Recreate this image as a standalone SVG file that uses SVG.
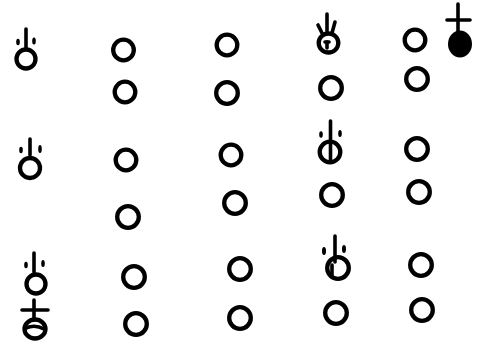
<svg xmlns="http://www.w3.org/2000/svg" width="482" height="349" viewBox="0 0 482 349">
<style>
.c{fill:none;stroke:#000;stroke-width:4.3}
.l{fill:none;stroke:#000;stroke-width:3.6;stroke-linecap:round}
.d{fill:#000}
</style>
<rect width="482" height="349" fill="#fff"/>
<!-- row 1 -->
<g id="s1"><circle class="c" cx="26" cy="59" r="9.5"/><line class="l" x1="26" y1="29" x2="26" y2="49"/><ellipse class="d" cx="18" cy="42" rx="1.8" ry="3.2"/><ellipse class="d" cx="34" cy="41" rx="1.8" ry="3.6"/></g>
<g id="n1"><circle class="c" cx="123.5" cy="50" r="10.3"/></g>
<g id="n2"><circle class="c" cx="125" cy="92" r="10.3"/></g>
<g id="n3"><circle class="c" cx="227" cy="45" r="10.3"/></g>
<g id="n4"><circle class="c" cx="227" cy="93" r="10.8"/></g>
<g id="s2"><ellipse class="c" cx="328.5" cy="43" rx="9.8" ry="9.5"/><line class="l" x1="327" y1="14" x2="327" y2="31"/><line class="l" x1="318" y1="25" x2="322" y2="33"/><line class="l" x1="335" y1="22" x2="332" y2="33"/><line class="l" x1="327" y1="42" x2="327" y2="48" stroke-width="2.8"/><line class="l" x1="325" y1="42" x2="329" y2="42" stroke-width="2.2"/></g>
<g id="n5"><circle class="c" cx="331" cy="88" r="10.8"/></g>
<g id="n6"><circle class="c" cx="415" cy="40" r="10.3"/></g>
<g id="n7"><circle class="c" cx="417" cy="79" r="10.8"/></g>
<g id="s3"><ellipse class="d" cx="460" cy="44" rx="12" ry="13.5"/><line class="l" x1="458" y1="4" x2="458" y2="31"/><line class="l" x1="447" y1="20" x2="470" y2="20"/></g>
<!-- row 2 -->
<g id="s4"><circle class="c" cx="30" cy="168" r="10"/><line class="l" x1="30" y1="139" x2="30" y2="155"/><ellipse class="d" cx="21" cy="150" rx="1.8" ry="3.2"/><ellipse class="d" cx="40" cy="149" rx="1.8" ry="4"/></g>
<g id="n8"><circle class="c" cx="126" cy="160" r="10.3"/></g>
<g id="n9"><circle class="c" cx="128" cy="217" r="10.8"/></g>
<g id="n10"><circle class="c" cx="231" cy="155" r="10.3"/></g>
<g id="n11"><circle class="c" cx="235" cy="203" r="10.8"/></g>
<g id="s5"><circle class="c" cx="330" cy="152" r="10.3"/><line class="l" x1="330.5" y1="121" x2="330.5" y2="162" stroke-width="4"/><ellipse class="d" cx="321" cy="134.5" rx="1.8" ry="3.2"/><ellipse class="d" cx="340" cy="133.5" rx="1.8" ry="3.6"/></g>
<g id="n12"><circle class="c" cx="332" cy="195" r="10.8"/></g>
<g id="n13"><circle class="c" cx="417" cy="149" r="10.8"/></g>
<g id="n14"><circle class="c" cx="419" cy="192" r="10.8"/></g>
<!-- row 3 -->
<g id="s6"><circle class="c" cx="36" cy="284" r="9.5"/><line class="l" x1="34" y1="253" x2="34" y2="272"/><ellipse class="d" cx="26" cy="265" rx="1.8" ry="3.2"/><ellipse class="d" cx="43" cy="263.5" rx="1.8" ry="3.6"/></g>
<g id="s7"><line class="l" x1="22" y1="310" x2="48" y2="310"/><line class="l" x1="34" y1="300" x2="34" y2="320"/><ellipse class="c" cx="35" cy="329" rx="10.5" ry="9.5"/><path class="l" d="M26 328 Q35 324 44 329"/></g>
<g id="n15"><circle class="c" cx="134" cy="277" r="10.8"/></g>
<g id="n16"><circle class="c" cx="136" cy="324" r="10.8"/></g>
<g id="n17"><circle class="c" cx="240" cy="269" r="10.8"/></g>
<g id="n18"><circle class="c" cx="240" cy="318" r="10.8"/></g>
<g id="s8"><circle class="c" cx="338" cy="268" r="10.8"/><line class="l" x1="335" y1="236" x2="335" y2="262" stroke-width="4"/><line class="l" x1="332" y1="265" x2="332" y2="275"/><ellipse class="d" cx="324" cy="251" rx="2" ry="4"/><ellipse class="d" cx="344" cy="249" rx="2" ry="4"/></g>
<g id="n19"><circle class="c" cx="336" cy="313" r="10.8"/></g>
<g id="n20"><circle class="c" cx="421" cy="265" r="10.8"/></g>
<g id="n21"><circle class="c" cx="422" cy="310" r="10.8"/></g>
<g id="conn"></g>
</svg>
